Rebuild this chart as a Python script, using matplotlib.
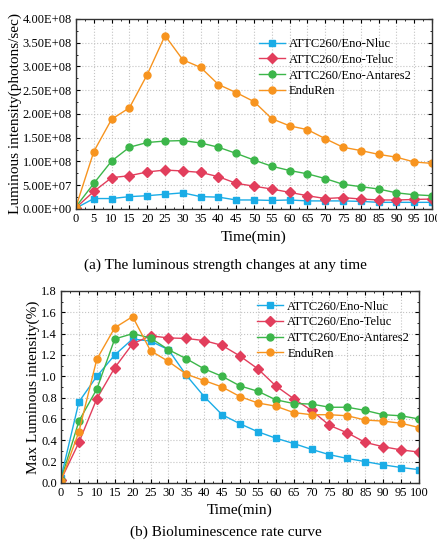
import numpy as np
import matplotlib
matplotlib.use('Agg')
import matplotlib.pyplot as plt
from matplotlib.ticker import MultipleLocator, FuncFormatter

plt.rcParams['font.family'] = ['Liberation Serif', 'DejaVu Serif']
plt.rcParams['mathtext.fontset'] = 'stix'

time_min = [0, 5, 10, 15, 20, 25, 30, 35, 40, 45, 50, 55, 60, 65, 70, 75, 80, 85, 90, 95, 100]
labels = ['ATTC260/Eno-Nluc', 'ATTC260/Eno-Teluc', 'ATTC260/Eno-Antares2', 'EnduRen']

# (a) luminous intensity, in units of 1e8 photons/sec
nluc_a = [0.02, 0.22, 0.22, 0.26, 0.28, 0.31, 0.34, 0.26, 0.25, 0.19, 0.19, 0.18, 0.19, 0.17, 0.17, 0.17, 0.16, 0.14, 0.14, 0.14, 0.14]
teluc_a = [0.03, 0.37, 0.66, 0.70, 0.78, 0.82, 0.80, 0.77, 0.68, 0.54, 0.48, 0.42, 0.35, 0.28, 0.22, 0.24, 0.21, 0.19, 0.19, 0.20, 0.21]
antares_a = [0.05, 0.54, 1.01, 1.30, 1.40, 1.43, 1.44, 1.39, 1.30, 1.17, 1.03, 0.90, 0.81, 0.74, 0.64, 0.52, 0.47, 0.42, 0.34, 0.30, 0.28]
enduren_a = [0.05, 1.21, 1.89, 2.13, 2.83, 3.65, 3.14, 2.98, 2.62, 2.45, 2.26, 1.90, 1.75, 1.67, 1.48, 1.30, 1.23, 1.15, 1.09, 0.99, 0.96]

# (b) max luminous intensity (%)
nluc_b = [0.05, 0.76, 1.00, 1.20, 1.35, 1.33, 1.25, 1.01, 0.81, 0.64, 0.555, 0.48, 0.42, 0.37, 0.315, 0.265, 0.23, 0.20, 0.17, 0.145, 0.125]
teluc_b = [0.03, 0.38, 0.79, 1.08, 1.305, 1.38, 1.36, 1.355, 1.335, 1.29, 1.19, 1.07, 0.91, 0.79, 0.68, 0.54, 0.47, 0.38, 0.34, 0.31, 0.29]
antares_b = [0.03, 0.58, 0.88, 1.35, 1.40, 1.36, 1.25, 1.165, 1.07, 1.00, 0.91, 0.86, 0.78, 0.745, 0.74, 0.71, 0.71, 0.68, 0.64, 0.63, 0.60]
enduren_b = [0.02, 0.48, 1.16, 1.455, 1.56, 1.24, 1.14, 1.02, 0.96, 0.90, 0.81, 0.75, 0.72, 0.66, 0.64, 0.64, 0.63, 0.59, 0.58, 0.56, 0.52]

colors = ['#1AACE6', '#E23E5C', '#3CB64A', '#F7941F']
markers = ['s', 'D', 'o', 'o']
msizes = [4.3, 4.6, 5, 5]

fig = plt.figure(figsize=(4.37, 5.42), dpi=100)
ax1 = fig.add_axes([0.174, 0.6144, 0.8146, 0.3506])
ax2 = fig.add_axes([0.1396, 0.1089, 0.8192, 0.3542])

def style(ax):
    ax.set_xlim(0, 100)
    ax.xaxis.set_major_locator(MultipleLocator(5))
    ax.xaxis.set_minor_locator(MultipleLocator(2.5))
    ax.tick_params(which='both', direction='in', top=True, right=True, labelsize=9, pad=3)
    ax.tick_params(which='major', length=3, width=0.8)
    ax.tick_params(which='minor', length=1.5, width=0.6)
    ax.grid(True, which='major', linestyle=':', color='#C4C4C4', linewidth=0.8)
    ax.set_axisbelow(True)
    for s in ax.spines.values():
        s.set_linewidth(1.0)
        s.set_color('#333333')

series_a = [nluc_a, teluc_a, antares_a, enduren_a]
for vals, c, m, ms, lab in zip(series_a, colors, markers, msizes, labels):
    ax1.plot(time_min, np.array(vals) * 1e8, '-', color=c, marker=m, markersize=ms, lw=1.0, label=lab)
ax1.set_ylim(0, 4e8)
ax1.yaxis.set_major_locator(MultipleLocator(0.5e8))
ax1.yaxis.set_minor_locator(MultipleLocator(0.25e8))
ax1.yaxis.set_major_formatter(FuncFormatter(lambda v, p: '{:.2E}'.format(v)))
style(ax1)
ax1.set_xlabel('Time(min)', fontsize=11, labelpad=4)
ax1.set_ylabel('Luminous intensity(photons/sec)', fontsize=11, labelpad=0)
ax1.legend(loc='upper left', bbox_to_anchor=(0.5, 0.926), frameon=False, fontsize=9,
           handlelength=2.1, handletextpad=0.3, labelspacing=0.3, borderaxespad=0)

series_b = [nluc_b, teluc_b, antares_b, enduren_b]
for vals, c, m, ms, lab in zip(series_b, colors, markers, msizes, labels):
    ax2.plot(time_min, vals, '-', color=c, marker=m, markersize=ms, lw=1.0, label=lab)
ax2.set_ylim(0, 1.8)
ax2.yaxis.set_major_locator(MultipleLocator(0.2))
ax2.yaxis.set_minor_locator(MultipleLocator(0.1))
ax2.yaxis.set_major_formatter(FuncFormatter(lambda v, p: '{:.1f}'.format(v)))
style(ax2)
ax2.set_xlabel('Time(min)', fontsize=11, labelpad=3)
ax2.set_ylabel('Max Luminous intensity(%)', fontsize=11, labelpad=1)
ax2.legend(loc='upper left', bbox_to_anchor=(0.534, 0.976), frameon=False, fontsize=9,
           handlelength=2.1, handletextpad=0.3, labelspacing=0.3, borderaxespad=0)

fig.text(0.515, 1 - 265 / 542, '(a) The luminous strength changes at any time', ha='center', va='center', fontsize=11)
fig.text(0.516, 1 - 532 / 542, '(b) Bioluminescence rate curve', ha='center', va='center', fontsize=11)

fig.savefig('out.png', dpi=100)
